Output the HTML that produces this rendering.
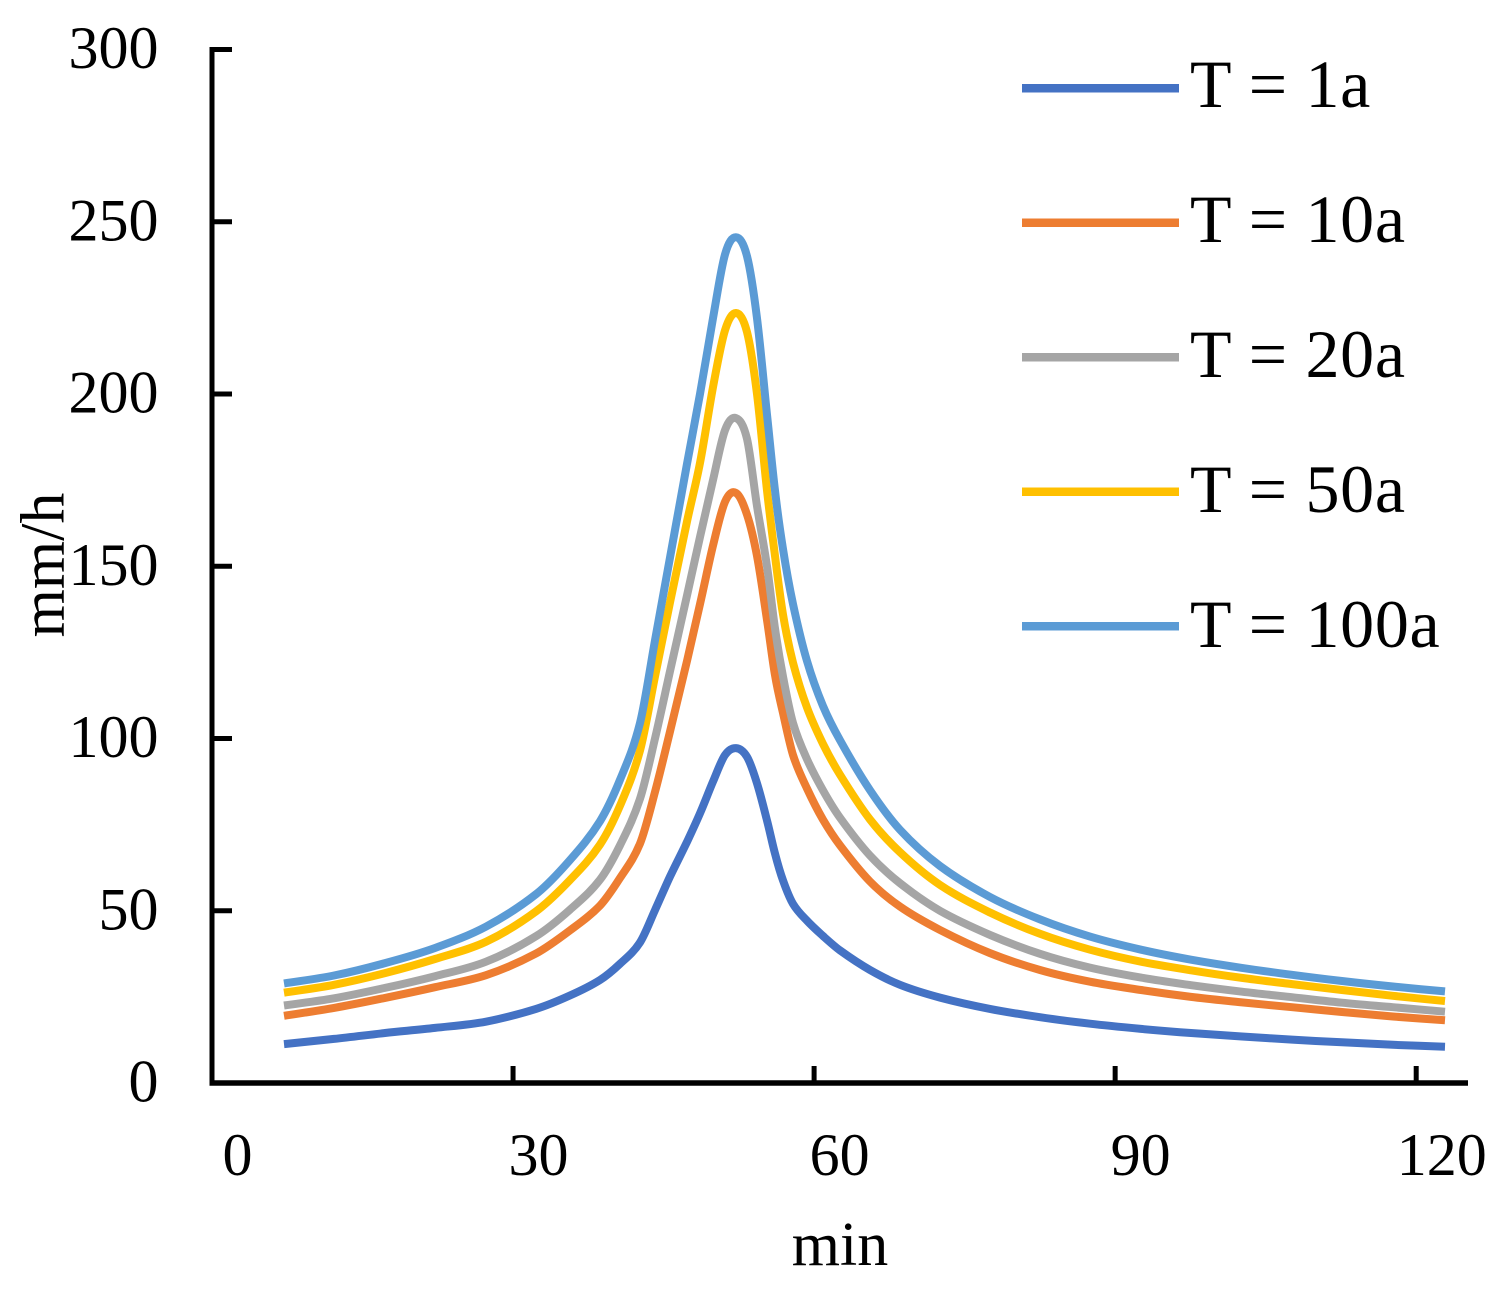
<!DOCTYPE html>
<html lang="en">
<head>
<meta charset="utf-8">
<title>Rainfall intensity chart</title>
<style>
html,body{margin:0;padding:0;background:#fff;}
svg{display:block;font-family:"Liberation Serif",serif;fill:#000;}
text{font-size:60px;}
text.legend-text{font-size:68px;letter-spacing:0.7px;}
text.axis-title{font-size:62px;}
</style>
</head>
<body>
<svg id="chart" width="1508" height="1289" viewBox="0 0 1508 1289" xmlns="http://www.w3.org/2000/svg">
  <g id="series"></g>
  <g id="axes"></g>
  <g id="legend"></g>
  <text class="axis-title" x="840" y="1265" text-anchor="middle">min</text>
  <text class="axis-title" transform="translate(63.5,565) rotate(-90)" text-anchor="middle">mm/h</text>
</svg>
<script>
const times = [7.17,12.16,17.24,22.22,27.3,32.29,35.67,38.66,40.66,42.65,44.15,45.64,47.33,48.63,49.93,51.12,52.22,53.31,54.31,55.31,56.1,56.9,57.9,59.29,60.88,62.58,65.57,68.56,72.55,77.53,82.51,87.49,92.58,97.56,102.64,107.62,112.6,117.68,122.87];
const seriesNames = ["T = 1a","T = 10a","T = 20a","T = 50a","T = 100a"];
const seriesColors = ["#4472c4","#ed7d31","#a5a5a5","#ffc000","#5b9bd5"];
const t1 = [11.3,12.8,14.5,16,17.8,21.5,25.4,29.9,34.6,40.8,50.2,59.9,70,78.3,87.5,95.2,97.2,94.7,87,76.2,66.6,58.8,52,47.1,42.7,38.5,32.8,28.5,24.8,21.5,19.1,17.2,15.7,14.5,13.5,12.6,11.8,11.1,10.5];
const t10 = [19.5,21.8,24.7,27.8,31.3,37.6,44.3,51.5,59.5,69.5,84.5,102,122.5,139,156,168.7,171.3,165,153,134.4,118.4,107.4,95.2,85.5,76.5,69,58.5,51.2,44.4,37.7,32.8,29.4,27,25,23.4,22,20.6,19.3,18.2];
const t20 = [22.5,24.6,27.6,31,35.2,42.6,50.3,59,69,82.5,100,119.5,141.5,158.5,175,189.5,193,187,167.5,150,132,118,104.5,94,85,77,66,58,50,43,37.5,33.5,30.6,28.4,26.5,24.9,23.3,22,20.7];
const t50 = [26.2,28.5,31.9,36,41,49.8,58.9,69.2,80.5,96.5,118,139.5,163,180,202,218.5,223.5,218,200,172,153,136,122,109,98.5,89.5,76.5,67,57.5,49.5,43.3,38.7,35.2,32.7,30.5,28.7,27,25.3,23.8];
const t100 = [28.9,31.2,34.8,39.2,45.4,54.8,64.7,76,88,104.5,128.5,152.5,179.7,200,222,240.5,245.5,240,222,194,172,155,139,122.5,109.5,99.5,85,73.5,63,54,47.5,42.5,38.7,35.8,33.4,31.4,29.6,28,26.6];
const xTicks = [0,30,60,90,120];
const yTicks = [0,50,100,150,200,250,300];

const NS = "http://www.w3.org/2000/svg";
const seriesValues = [t1,t10,t20,t50,t100];
function xScale(v){ return 212 + v * 10.035; }
function yScale(v){ return 1083 - v * (1083 - 49.5) / 300; }
function make(tag, attrs, parent){
  const el = document.createElementNS(NS, tag);
  for (const k in attrs) el.setAttribute(k, attrs[k]);
  parent.appendChild(el);
  return el;
}
function smoothPath(xs, ys){
  const p = xs.map((x,i)=>[xScale(x), yScale(ys[i])]);
  let d = "M" + p[0][0].toFixed(1) + " " + p[0][1].toFixed(1);
  for (let i = 0; i < p.length - 1; i++){
    const a = p[Math.max(i-1,0)], b = p[i], c = p[i+1], e = p[Math.min(i+2,p.length-1)];
    const dx = c[0] - b[0];
    const m1 = (c[1]-a[1]) / (c[0]-a[0]);
    const m2 = (e[1]-b[1]) / (e[0]-b[0]);
    d += " C" + (b[0]+dx/3).toFixed(1) + " " + (b[1]+m1*dx/3).toFixed(1) + " " +
         (c[0]-dx/3).toFixed(1) + " " + (c[1]-m2*dx/3).toFixed(1) + " " +
         c[0].toFixed(1) + " " + c[1].toFixed(1);
  }
  return d;
}
const seriesG = document.getElementById("series");
const axesG = document.getElementById("axes");
const legendG = document.getElementById("legend");

seriesValues.forEach(function(vals, i){
  const line = make("path", {d: smoothPath(times, vals), fill:"none", stroke: seriesColors[i], "stroke-width":8, "stroke-linejoin":"round", "stroke-linecap":"butt"}, seriesG);
  
  

  const ly = 88.3 + i * 134.5;
  const key = make("line", {x1:1022, x2:1179, y1:ly, y2:ly, stroke: seriesColors[i], "stroke-width":8.5}, legendG);
  
  
  const lab = make("text", {x:1190, y:107 + i * 135, "class":"legend-text"}, legendG);
  lab.textContent = seriesNames[i];
  
  
});

const yAxis = make("line", {x1:212, x2:212, y1:47, y2:1085.5, stroke:"#000", "stroke-width":5}, axesG);


const xAxis = make("line", {x1:209.5, x2:1468, y1:1083, y2:1083, stroke:"#000", "stroke-width":5.5}, axesG);



yTicks.forEach(function(v){
  const y = yScale(v);
  const tick = make("line", {x1:212, x2:232, y1:y, y2:y, stroke:"#000", "stroke-width":5}, axesG);
  
  
  const lab = make("text", {x:158.5, y:y + 18.5, "text-anchor":"end"}, axesG);
  lab.textContent = v;
  
  
});
xTicks.forEach(function(v){
  const x = xScale(v);
  const tick = make("line", {x1:x, x2:x, y1:1066, y2:1083, stroke:"#000", "stroke-width":5}, axesG);
  
  
  const lab = make("text", {x:x + 25.5, y:1175, "text-anchor":"middle"}, axesG);
  lab.textContent = v;
  
  
});
</script>
</body>
</html>
